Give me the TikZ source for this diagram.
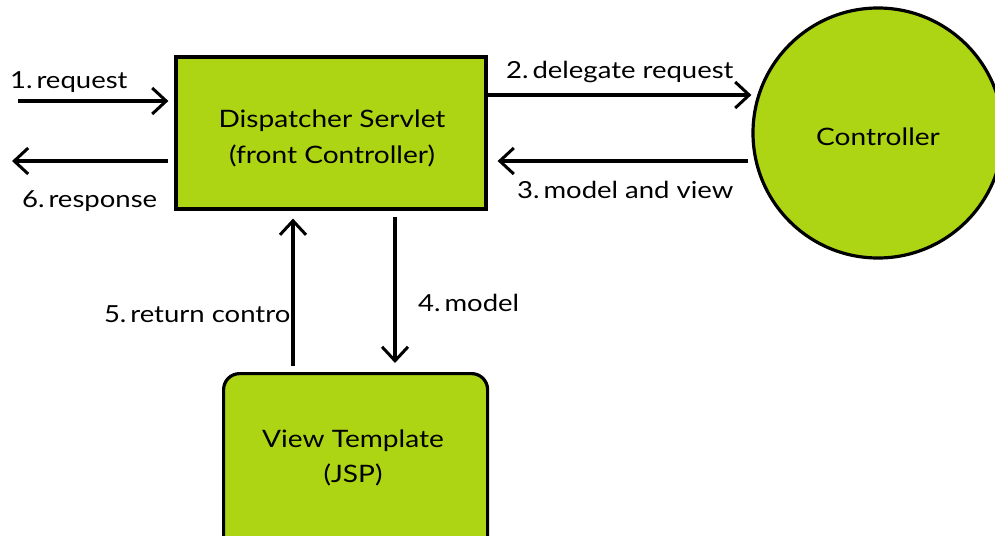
\documentclass[tikz,border=0pt]{standalone}
\usepackage{fontspec}
\setmainfont{Lato}[FakeStretch=1.17]
\usetikzlibrary{arrows.meta}
\definecolor{leaf}{RGB}{173,213,20}
\begin{document}
\begin{tikzpicture}[x=1pt,y=-1pt,
  box/.style={draw=black,line width=3.2pt,fill=leaf,inner sep=0pt},
  flow/.style={line width=3.4pt,-{Straight Barb[length=14pt,width=26pt,line width=3pt]}},
  lbl/.style={inner sep=0pt,anchor=base west,font=\fontsize{23.5}{27}\selectfont},
  body/.style={inner sep=0pt,anchor=base,font=\fontsize{24}{28}\selectfont}]
\useasboundingbox (0,0) rectangle (995,535);
% dispatcher servlet
\node[box,minimum width=310pt,minimum height=152pt] (ds) at (331,133) {};
\node[body] (ds1) at (332,127) {Dispatcher Servlet};
\node[body] (ds2) at (332,163) {(front Controller)};
% controller
\node[box,circle,minimum size=250pt] (ctl) at (878,133) {};
\node[body] (ctlt) at (878,145) {Controller};
% view template
\node[box,rounded corners=16pt,minimum width=264pt,minimum height=200pt,anchor=north west] (vt) at (222,372) {};
\node[body] (vt1) at (353,447) {View Template};
\node[body] (vt2) at (353,482) {(JSP)};
% free ends on the left
\coordinate (inL) at (18,101);
\coordinate (outL) at (12,161);
% request / response
\draw[flow] (inL) -- ([xshift=-6pt]ds.west |- inL);
\draw[flow] ([xshift=-6pt]ds.west |- outL) -- (outL);
\node[lbl] (l1) at (10,88) {1.\,request};
\node[lbl] (l6) at (22,207) {6.\,response};
% delegate / model and view
\coordinate (a2s) at (490,95);
\coordinate (a3s) at (748,161);
\draw[flow] (ds.east |- a2s) -- (ctl.west |- a2s);
\draw[flow] (a3s) -- ([xshift=10pt]ds.east |- a3s);
\node[lbl] (l2) at (506,78) {2.\,delegate request};
\node[lbl] (l3) at (517,198) {3.\,model and view};
% model / return control
\coordinate (a5) at (293,366);
\coordinate (a4) at (395,217);
\draw[flow] (a5) -- ([yshift=-8pt]a5 |- ds.south);
\draw[flow] (a4) -- ([yshift=9pt]a4 |- vt.north);
\node[lbl,anchor=base east] (l5) at (297,322) {5.\,return control};
\node[lbl] (l4) at (418,311) {4.\,model};
\end{tikzpicture}
\end{document}
